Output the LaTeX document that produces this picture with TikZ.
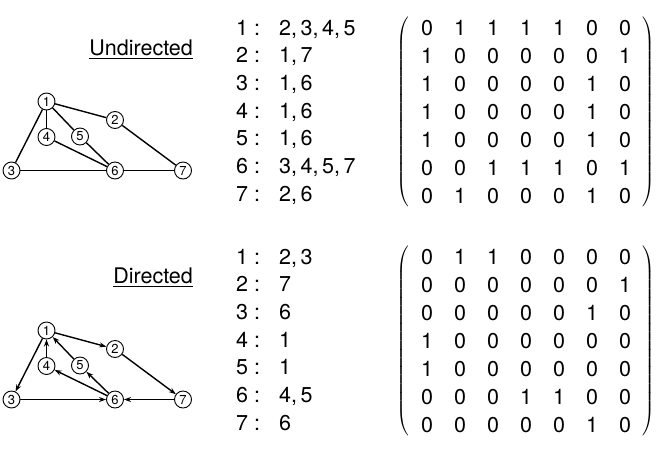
\documentclass[tikz,border=0pt]{standalone}
\usepackage{exscale}
\usepackage{fontspec}
\setmainfont{TeX Gyre Heros}
\usetikzlibrary{positioning, matrix, arrows.meta}

\tikzset{
  vertex/.style={draw, circle, line width=0.9pt, inner sep=0pt, minimum size=17pt, font=\fontsize{13}{15}\selectfont},
  edge/.style={line width=1.4pt},
  arc/.style={edge, -{Stealth[length=7pt,width=5pt]}},
  adjlist/.style={anchor=base west, inner sep=0pt},
  adjmat/.style={matrix of nodes, anchor=center, inner xsep=0pt, inner ysep=-2.5pt, left delimiter=(, right delimiter=),
    nodes={inner sep=0pt, minimum width=33pt, minimum height=27.7pt}},
  every delimiter/.style={inner sep=0pt, font=\fontsize{14}{16}\selectfont},
  title/.style={anchor=base east, inner sep=0pt}
}

\begin{document}
\begin{tikzpicture}[x=1pt, y=-1pt, font=\fontsize{21.5}{25}\selectfont]
\useasboundingbox (0,0) rectangle (660,450);
% the two graphs
\foreach \n/\x/\y in {1/46.5/101.5, 2/115/120, 3/11.5/170.5, 4/46.5/137, 5/80/136.5, 6/115/170.5, 7/183/170.5} {
  \node[vertex] (u\n) at (\x,\y) {\n};
  \node[vertex] (d\n) at (\x,\y+229) {\n};
}
\foreach \a/\b in {1/2,1/3,1/4,1/5,2/7,3/6,4/6,5/6,6/7}
  \draw[edge] (u\a) -- (u\b);
\foreach \a/\b in {1/2,1/3,2/7,3/6,4/1,5/1,6/4,6/5,7/6}
  \draw[arc] (d\a) -- (d\b);
\node[title] (ut) at (193,55) {\underline{Undirected}};
\node[title] (dt) at (193,283.5) {\underline{Directed}};
% adjacency lists
\foreach \i/\l in {1/{2,\,3,\,4,\,5}, 2/{1,\,7}, 3/{1,\,6}, 4/{1,\,6}, 5/{1,\,6}, 6/{3,\,4,\,5,\,7}, 7/{2,\,6}} {
  \node[adjlist] (uk\i) at (236,{35+27.7*(\i-1)}) {\i\ :};
  \node[adjlist] (uv\i) at (279,{35+27.7*(\i-1)}) {\l};
}
\foreach \i/\l in {1/{2,\,3}, 2/7, 3/6, 4/1, 5/1, 6/{4,\,5}, 7/6} {
  \node[adjlist] (dk\i) at (236,{264+27.7*(\i-1)}) {\i\ :};
  \node[adjlist] (dv\i) at (279,{264+27.7*(\i-1)}) {\l};
}
% adjacency matrices
\matrix[adjmat] (um) at (526,112) {
  0 & 1 & 1 & 1 & 1 & 0 & 0 \\
  1 & 0 & 0 & 0 & 0 & 0 & 1 \\
  1 & 0 & 0 & 0 & 0 & 1 & 0 \\
  1 & 0 & 0 & 0 & 0 & 1 & 0 \\
  1 & 0 & 0 & 0 & 0 & 1 & 0 \\
  0 & 0 & 1 & 1 & 1 & 0 & 1 \\
  0 & 1 & 0 & 0 & 0 & 1 & 0 \\
};
\matrix[adjmat] (dm) at (526,341) {
  0 & 1 & 1 & 0 & 0 & 0 & 0 \\
  0 & 0 & 0 & 0 & 0 & 0 & 1 \\
  0 & 0 & 0 & 0 & 0 & 1 & 0 \\
  1 & 0 & 0 & 0 & 0 & 0 & 0 \\
  1 & 0 & 0 & 0 & 0 & 0 & 0 \\
  0 & 0 & 0 & 1 & 1 & 0 & 0 \\
  0 & 0 & 0 & 0 & 0 & 1 & 0 \\
};
\end{tikzpicture}
\end{document}
